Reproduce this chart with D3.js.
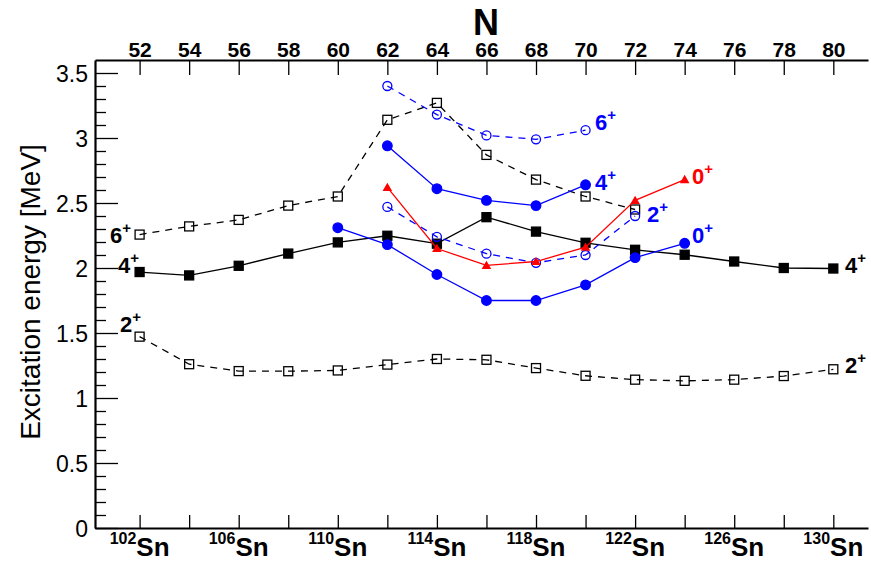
<!DOCTYPE html>
<html>
<head>
<meta charset="utf-8">
<script src="https://cdn.jsdelivr.net/npm/d3@7"></script>
<style>
  body { margin: 0; background: #fff; }
  svg { font-family: "Liberation Sans", Arial, sans-serif; }
</style>
</head>
<body>
<svg id="chart" width="871" height="562"></svg>
<script>
// neutron numbers
const nAll = [52, 54, 56, 58, 60, 62, 64, 66, 68, 70, 72, 74, 76, 78, 80];
const nMid = [62, 64, 66, 68, 70];
const nBlue2 = [62, 64, 66, 68, 70, 72];
const nBlue0 = [60, 62, 64, 66, 68, 70, 72, 74];
const nRed0 = [62, 64, 66, 68, 70, 72, 74];
const nSix = [52, 54, 56, 58, 60, 62, 64, 66, 68, 70, 72];

// excitation energies [MeV]
const e2plus = [1.472, 1.260, 1.207, 1.206, 1.212, 1.257, 1.300, 1.294, 1.230, 1.171, 1.141, 1.132, 1.141, 1.169, 1.221];
const e4plus = [1.969, 1.943, 2.017, 2.111, 2.197, 2.248, 2.187, 2.391, 2.280, 2.194, 2.140, 2.102, 2.050, 2.000, 1.996];
const e6plus = [2.257, 2.32, 2.37, 2.48, 2.55, 3.14, 3.27, 2.87, 2.68, 2.55, 2.45];
const blue4 = [2.94, 2.61, 2.52, 2.48, 2.64];
const blue6 = [3.40, 3.18, 3.02, 2.99, 3.06];
const blue2 = [2.47, 2.24, 2.11, 2.04, 2.10, 2.40];
const blue0 = [2.31, 2.18, 1.95, 1.75, 1.75, 1.87, 2.08, 2.19];
const red0 = [2.62, 2.15, 2.02, 2.05, 2.16, 2.52, 2.68];

const topTicks = [52, 54, 56, 58, 60, 62, 64, 66, 68, 70, 72, 74, 76, 78, 80];
const massLabels = [102, 106, 110, 114, 118, 122, 126, 130];
const yTicks = [0, 0.5, 1, 1.5, 2, 2.5, 3, 3.5];

const svg = d3.select('#chart');
const plotL = 95, plotR = 868, plotT = 60, plotB = 528;

const x = d3.scaleLinear().domain([50.2, 81.4]).range([plotL, plotR]);
const y = d3.scaleLinear().domain([0, 3.6]).range([plotB, plotT]);

// y axis, major + minor ticks pointing inside
const yMinor = d3.range(0, 36).map(i => i / 10).filter(v => !yTicks.some(t => Math.abs(t - v) < 1e-6));
svg.append('g')
  .attr('transform', `translate(${plotL},0)`)
  .call(d3.axisLeft(y).tickValues(yMinor).tickSize(-11).tickSizeOuter(0).tickFormat(''))
  .call(g => g.select('.domain').remove())
  .call(g => g.selectAll('line').attr('stroke-width', 1.3));

svg.append('g')
  .attr('transform', `translate(${plotL},0)`)
  .call(d3.axisLeft(y).tickValues(yTicks).tickSize(-23).tickSizeOuter(0).tickPadding(7).tickFormat(d3.format('~g')))
  .call(g => g.select('.domain').attr('stroke-width', 2.2))
  .call(g => g.selectAll('line').attr('stroke-width', 1.3))
  .call(g => g.selectAll('text').attr('font-size', 23).attr('font-family', null).attr('dy', '0.36em'));

// top axis: N
svg.append('g')
  .attr('transform', `translate(0,${plotT})`)
  .call(d3.axisTop(x).tickValues(topTicks).tickSize(-15).tickSizeOuter(0).tickPadding(3))
  .call(g => g.select('.domain').attr('stroke-width', 2.2))
  .call(g => g.selectAll('line').attr('stroke-width', 1.3))
  .call(g => g.selectAll('text').attr('font-size', 21).attr('font-weight', 'bold').attr('font-family', null));

// bottom axis: Sn isotopes
svg.append('g')
  .attr('transform', `translate(0,${plotB})`)
  .call(d3.axisBottom(x).tickValues(topTicks).tickSize(-13).tickSizeOuter(0).tickFormat(''))
  .call(g => g.select('.domain').attr('stroke-width', 2.2))
  .call(g => g.selectAll('line').attr('stroke-width', 1.3));

massLabels.forEach(a => {
  const t = svg.append('text')
    .attr('x', x(a - 50))
    .attr('y', 556)
    .attr('text-anchor', 'middle')
    .attr('font-weight', 'bold');
  t.append('tspan').attr('font-size', 16).attr('dy', -12).text(a);
  t.append('tspan').attr('font-size', 26).attr('dy', 12).text('Sn');
});

svg.append('text')
  .attr('x', 486).attr('y', 35)
  .attr('text-anchor', 'middle')
  .attr('font-size', 36).attr('font-weight', 'bold')
  .text('N');

svg.append('text')
  .attr('transform', 'translate(40,292) rotate(-90)')
  .attr('text-anchor', 'middle')
  .attr('font-size', 28)
  .text('Excitation energy [MeV]');

// series
const line = d3.line().x(d => x(d[0])).y(d => y(d[1]));
const zip = (a, b) => a.map((v, i) => [v, b[i]]);

function drawSeries(ns, es, color, dashed, marker) {
  const pts = zip(ns, es);
  const g = svg.append('g');
  g.append('path')
    .datum(pts)
    .attr('d', line)
    .attr('fill', 'none')
    .attr('stroke', color)
    .attr('stroke-width', 1.3)
    .attr('stroke-dasharray', dashed ? '7,6' : null);
  if (marker === 'openSquare' || marker === 'square') {
    const s = 9;
    g.selectAll('rect').data(pts).join('rect')
      .attr('x', d => x(d[0]) - s / 2)
      .attr('y', d => y(d[1]) - s / 2)
      .attr('width', s).attr('height', s)
      .attr('fill', marker === 'square' ? color : 'none')
      .attr('stroke', color).attr('stroke-width', 1.3);
  } else if (marker === 'openCircle' || marker === 'circle') {
    g.selectAll('circle').data(pts).join('circle')
      .attr('cx', d => x(d[0])).attr('cy', d => y(d[1]))
      .attr('r', marker === 'circle' ? 4.8 : 4.5)
      .attr('fill', marker === 'circle' ? color : 'none')
      .attr('stroke', color).attr('stroke-width', 1.3);
  } else if (marker === 'triangle') {
    g.selectAll('path.tri').data(pts).join('path')
      .attr('class', 'tri')
      .attr('d', d3.symbol(d3.symbolTriangle, 40))
      .attr('transform', d => `translate(${x(d[0])},${y(d[1]) + 0.8})`)
      .attr('fill', color);
  }
}

drawSeries(nAll, e2plus, '#000', true, 'openSquare');
drawSeries(nSix, e6plus, '#000', true, 'openSquare');
drawSeries(nAll, e4plus, '#000', false, 'square');
drawSeries(nMid, blue6, '#0000ff', true, 'openCircle');
drawSeries(nBlue2, blue2, '#0000ff', true, 'openCircle');
drawSeries(nMid, blue4, '#0000ff', false, 'circle');
drawSeries(nBlue0, blue0, '#0000ff', false, 'circle');
drawSeries(nRed0, red0, '#ff0000', false, 'triangle');

// state labels
const stateLabels = [
  { x: 110, y: 243, j: '6', c: '#000' },
  { x: 118, y: 273, j: '4', c: '#000' },
  { x: 120, y: 332, j: '2', c: '#000' },
  { x: 845, y: 273, j: '4', c: '#000' },
  { x: 845, y: 373, j: '2', c: '#000' },
  { x: 595, y: 130, j: '6', c: '#0000ff' },
  { x: 595, y: 190, j: '4', c: '#0000ff' },
  { x: 647, y: 222, j: '2', c: '#0000ff' },
  { x: 692, y: 184, j: '0', c: '#ff0000' },
  { x: 692, y: 243, j: '0', c: '#0000ff' }
];
stateLabels.forEach(l => {
  const t = svg.append('text')
    .attr('x', l.x).attr('y', l.y)
    .attr('fill', l.c)
    .attr('font-weight', 'bold');
  t.append('tspan').attr('font-size', 22).text(l.j);
  t.append('tspan').attr('font-size', 15).attr('dy', -10).text('+');
});
</script>
</body>
</html>
